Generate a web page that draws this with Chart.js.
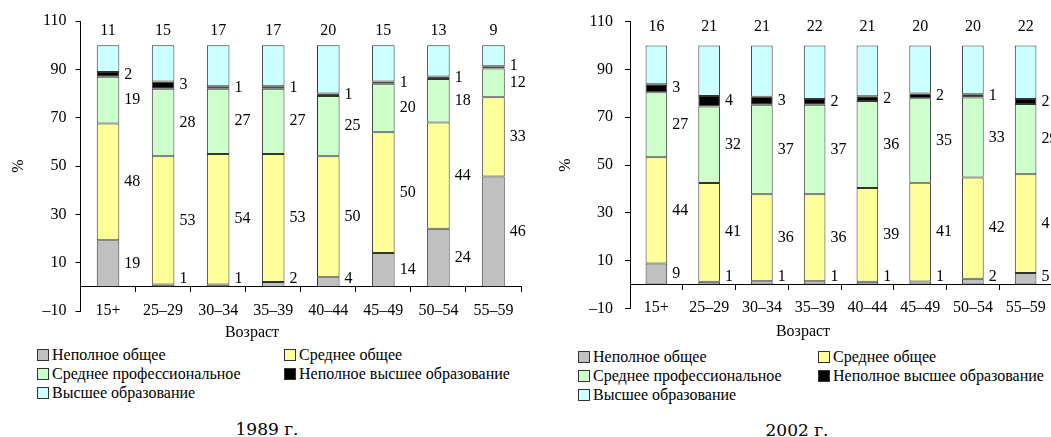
<!DOCTYPE html>
<html lang="ru">
<head>
<meta charset="utf-8">
<title>Образование по возрастным группам</title>
<script src="https://cdn.jsdelivr.net/npm/chart.js@4.4.1/dist/chart.umd.min.js"></script>
<style>
  html, body { margin: 0; padding: 0; background: #fff; }
  body { width: 1051px; height: 437px; overflow: hidden; position: relative;
         font-family: "Liberation Serif", "DejaVu Serif"; color: #000; }
  .box { position: absolute; }
  .axis-name { position: absolute; font-size: 16px; transform: translate(-50%, -50%); white-space: nowrap; }
  .caption { position: absolute; font-family: "DejaVu Serif"; font-size: 17px;
             transform: translate(-50%, -50%); white-space: nowrap; }
  .legend-item { position: absolute; font-size: 16px; line-height: 19px; white-space: nowrap;
                 display: flex; align-items: center; }
  .legend-item i { display: inline-block; width: 12px; height: 12px; border: 1px solid #333;
                   margin-right: 3px; box-sizing: border-box; }
</style>
</head>
<body>
<div class="box" id="wrap1989" style="left:0;top:0;width:530px;height:330px"><canvas id="chart1989"></canvas></div>
<div class="box" id="wrap2002" style="left:547px;top:0;width:530px;height:330px"><canvas id="chart2002"></canvas></div>
<div class="axis-name" style="left:252px;top:332px">Возраст</div>
<div class="axis-name" style="left:803px;top:331px">Возраст</div>
<div id="legend1989"></div>
<div id="legend2002"></div>
<div class="caption" style="left:267px;top:429px">1989 г.</div>
<div class="caption" style="left:797px;top:430px">2002 г.</div>

<script>
const ageGroups = ['15+', '25–29', '30–34', '35–39', '40–44', '45–49', '50–54', '55–59'];
const seriesNames = ['Неполное общее', 'Среднее общее', 'Среднее профессиональное',
                     'Неполное высшее образование', 'Высшее образование'];
const seriesColors = ['#C0C0C0', '#FFFF99', '#CCFFCC', '#000000', '#CCFFFF'];
const yTicks = [-10, 10, 30, 50, 70, 90, 110];

// 1989, % by age group
const incomplete1989 = [19.3, 1, 1, 2, 4, 14, 24, 45.7];
const general1989 = [48.3, 53, 54, 53, 50, 50, 44, 32.8];
const vocational1989 = [19.3, 28, 27, 27, 25, 20, 18, 11.8];
const partialHigher1989 = [2.0, 3, 1, 1, 1, 1, 1, 1.0];
const higher1989 = [11.1, 15, 17, 17, 20, 15, 13, 8.7];

// 2002, % by age group
const incomplete2002 = [8.8, 1.2, 1.4, 1.4, 1.2, 1.3, 2.4, 4.8];
const general2002 = [44.4, 41.3, 36.4, 36.4, 39.2, 41.3, 42.4, 41.3];
const vocational2002 = [27.2, 32.0, 37.4, 37.4, 36.4, 35.3, 33.4, 29.4];
const partialHigher2002 = [3.4, 4.4, 3.4, 2.4, 2.0, 2.0, 1.4, 2.1];
const higher2002 = [16.2, 21.1, 21.4, 22.4, 21.2, 20.1, 20.4, 22.4];

const FONT = '"Liberation Serif", "DejaVu Serif"';

// value labels: right of each segment, total of the top one above the bar
const segmentLabels = {
  id: 'segmentLabels',
  afterDatasetsDraw(chart, args, opts) {
    const ctx = chart.ctx;
    const yScale = chart.scales.y;
    const zeroY = yScale.getPixelForValue(0);
    const last = chart.data.datasets.length - 1;
    ctx.save();
    ctx.font = '16px ' + FONT;
    ctx.fillStyle = '#000';
    ctx.textBaseline = 'middle';
    chart.data.labels.forEach(function(_, i) {
      let prevY = null;
      for (let d = 0; d < last; d++) {
        const bar = chart.getDatasetMeta(d).data[i];
        const v = chart.data.datasets[d].data[i];
        let y = Math.min((bar.y + bar.base) / 2, zeroY - 8);
        if (prevY !== null) y = Math.min(y, prevY - 17);
        prevY = y;
        ctx.textAlign = 'left';
        ctx.fillText(String(Math.round(v)), bar.x + bar.width / 2 + opts.gap, y);
      }
      const top = chart.getDatasetMeta(last).data[i];
      ctx.textAlign = 'center';
      ctx.fillText(String(Math.round(chart.data.datasets[last].data[i])), top.x,
                   yScale.getPixelForValue(opts.topValue));
    });
    ctx.restore();
  }
};

function makeChart(id, series, cfg) {
  const datasets = series.map(function(values, k) {
    return {
      label: seriesNames[k],
      data: values,
      backgroundColor: seriesColors[k],
      borderColor: '#333',
      borderWidth: 1,
      borderSkipped: false,
      barPercentage: 0.41,
      categoryPercentage: 1
    };
  });
  return new Chart(document.getElementById(id), {
    type: 'bar',
    data: { labels: ageGroups, datasets: datasets },
    plugins: [segmentLabels],
    options: {
      responsive: true,
      maintainAspectRatio: false,
      animation: false,
      layout: { padding: { left: 0, top: 21, right: cfg.padRight, bottom: 19 } },
      plugins: {
        legend: { display: false },
        tooltip: { enabled: false },
        segmentLabels: { gap: 5, topValue: cfg.topValue }
      },
      scales: {
        x: {
          stacked: true,
          position: { y: 0 },
          offset: true,
          grid: { offset: true, drawOnChartArea: false, drawTicks: true, tickLength: 5, color: '#000' },
          border: { display: true, color: '#000', width: 1 },
          ticks: { color: '#000', padding: 9, font: { family: FONT, size: 16 }, maxRotation: 0 }
        },
        y: {
          stacked: true,
          min: -10,
          max: 110,
          afterBuildTicks: function(scale) { scale.ticks = yTicks.map(v => ({ value: v })); },
          afterFit: function(scale) { scale.width = cfg.axisWidth; },
          grid: { drawOnChartArea: false, drawTicks: true, tickLength: 5, color: '#000' },
          border: { display: true, color: '#000', width: 1 },
          ticks: {
            color: '#000', padding: cfg.tickPad, font: { family: FONT, size: 16 },
            callback: v => (v < 0 ? '–' + Math.abs(v) : String(v))
          },
          title: { display: true, text: '%', color: '#000', padding: 9, font: { family: FONT, size: 16 } }
        }
      }
    }
  });
}

function makeLegend(id, cols, top) {
  const holder = document.getElementById(id);
  seriesNames.forEach(function(name, k) {
    const item = document.createElement('div');
    item.className = 'legend-item';
    item.style.left = cols[k % 2] + 'px';
    item.style.top = (top + Math.floor(k / 2) * 19) + 'px';
    item.innerHTML = '<i style="background:' + seriesColors[k] + '"></i>' + name;
    holder.appendChild(item);
  });
}

makeChart('chart1989',
  [incomplete1989, general1989, vocational1989, partialHigher1989, higher1989],
  { axisWidth: 80.5, padRight: 9, tickPad: 9, topValue: 106 });
makeChart('chart2002',
  [incomplete2002, general2002, vocational2002, partialHigher2002, higher2002],
  { axisWidth: 83, padRight: 25, tickPad: 12, topValue: 108 });

makeLegend('legend1989', [37, 284], 345);
makeLegend('legend2002', [578, 818], 347);
</script>
</body>
</html>
